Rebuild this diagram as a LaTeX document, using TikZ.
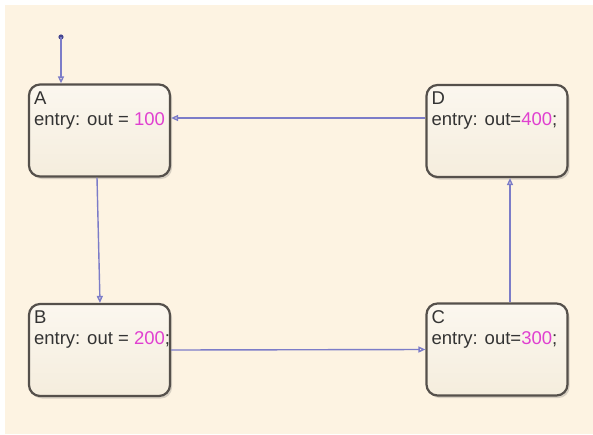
\documentclass[tikz,border=0pt]{standalone}
\usepackage{fontspec}
\setmainfont{Liberation Sans}
\usetikzlibrary{arrows.meta,shadows}
\definecolor{bgcream}{HTML}{FDF3E2}
\definecolor{boxtop}{HTML}{FBF7EF}
\definecolor{boxbot}{HTML}{F5EDDD}
\definecolor{boxline}{HTML}{55504B}
\definecolor{trans}{HTML}{7C7CC8}
\definecolor{dotc}{HTML}{45458F}
\definecolor{txt}{HTML}{333333}
\definecolor{mag}{HTML}{E040D0}
\tikzset{
  statebox/.style={draw=boxline, line width=2.2pt, rounded corners=11pt,
    top color=boxtop, bottom color=boxbot,
    minimum width=141pt, minimum height=92pt, inner sep=0pt,
    drop shadow={shadow xshift=2pt, shadow yshift=-2.5pt, opacity=0.25, fill=black!60}},
  statetext/.style={anchor=north west, align=left, inner sep=0pt, text=txt,
    font=\fontsize{18.5}{21}\selectfont},
  tr/.style={draw=trans, line width=1.4pt, -{Triangle[open, length=7pt, width=6pt]}},
}
\begin{document}
\begin{tikzpicture}[x=1pt,y=-1pt]
\useasboundingbox (0,0) rectangle (593,434);
\fill[white] (0,0) rectangle (593,434);
\fill[bgcream] (5,5) rectangle (593,434);

\node[statebox] (A) at (99.5,130.5) {};
\node[statebox] (B) at (99.5,350) {};
\node[statebox] (C) at (497,349.5) {};
\node[statebox] (D) at (497,131) {};

\node[statetext] (At) at ([xshift=6,yshift=-8]A.north west) {A\\entry: out = \textcolor{mag}{100}};
\node[statetext] (Bt) at ([xshift=6,yshift=-8]B.north west) {B\\entry: out = \textcolor{mag}{200};};
\node[statetext] (Ct) at ([xshift=6,yshift=-8]C.north west) {C\\entry: out=\textcolor{mag}{300};};
\node[statetext] (Dt) at ([xshift=6,yshift=-8]D.north west) {D\\entry: out=\textcolor{mag}{400};};

\coordinate (init) at (61,37);
\fill[dotc] (init) circle (2.6pt);
\draw[tr] (init) -- (init |- A.north);
\draw[tr] ([yshift=13]D.west) -- ([yshift=13]D.west -| A.east);
\draw[tr] ([xshift=-2.5]A.south) -- ([xshift=0.5]B.north);
\draw[tr] (B.east) -- (C.west);
\draw[tr] ([xshift=13]C.north) -- ([xshift=13]D.south);
\end{tikzpicture}
\end{document}
